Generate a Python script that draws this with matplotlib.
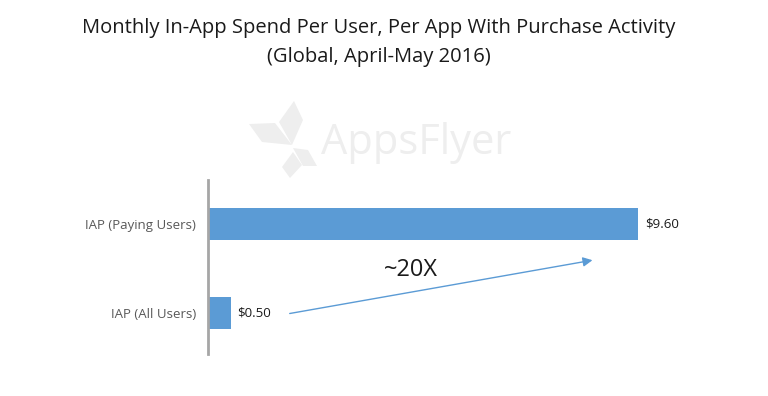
import matplotlib.pyplot as plt
from matplotlib.patches import Polygon

categories = ['IAP (All Users)', 'IAP (Paying Users)']
spend = [0.50, 9.60]
value_labels = ['$0.50', '$9.60']
title = 'Monthly In-App Spend Per User, Per App With Purchase Activity\n(Global, April-May 2016)'

plt.rcParams['font.family'] = ['Open Sans', 'DejaVu Sans']

fig = plt.figure(figsize=(7.68, 3.96), dpi=100)
ax = fig.add_axes([0.271, 0.106, 0.7, 0.439])

pos = list(range(len(categories)))
ax.barh(pos, spend, height=0.36, color='#5b9bd5')
for p, v, lab in zip(pos, spend, value_labels):
    ax.annotate(lab, (v, p), xytext=(5, 0), textcoords='offset points',
                va='center', ha='left', fontsize=9.5, color='#1a1a1a')

ax.set_xlim(0, 12)
ax.set_ylim(-0.46, 1.494)
ax.set_yticks(pos)
ax.set_yticklabels(categories, fontsize=9.5, color='#595959')
ax.set_xticks([])
ax.tick_params(axis='y', length=0, pad=8.5)
for s in ['top', 'right', 'bottom']:
    ax.spines[s].set_visible(False)
ax.spines['left'].set_color('#a6a6a6')
ax.spines['left'].set_linewidth(2)

# growth arrow
ax.annotate('', xy=(8.64, 0.6), xytext=(1.76, -0.01),
            arrowprops=dict(arrowstyle='-|>', color='#5b9bd5', lw=1, mutation_scale=14))
ax.text(4.53, 0.48, '~20X', fontsize=17, ha='center', va='center', color='#1a1a1a')

fig.text(0.493, 0.893, title, ha='center', va='center', fontsize=14.5,
         color='#1a1a1a', linespacing=1.6)

# watermark
wm = '#eeeeee'
fig.text(0.418, 0.64, 'AppsFlyer', fontsize=30, color=wm, ha='left', va='center',
         zorder=0)
shapes = [
    [(294, 101), (303, 120), (292, 145), (279, 122)],
    [(249, 124), (275, 123), (292, 145), (262, 142)],
    [(293, 148), (308, 150), (317, 166), (303, 166)],
    [(293, 152), (302, 165), (290, 178), (282, 167)],
]
for d in shapes:
    pts = [(x / 768, 1 - y / 396) for x, y in d]
    fig.patches.append(Polygon(pts, closed=True, transform=fig.transFigure,
                               facecolor=wm, edgecolor='none', zorder=0))

fig.savefig('out.png', dpi=100)
